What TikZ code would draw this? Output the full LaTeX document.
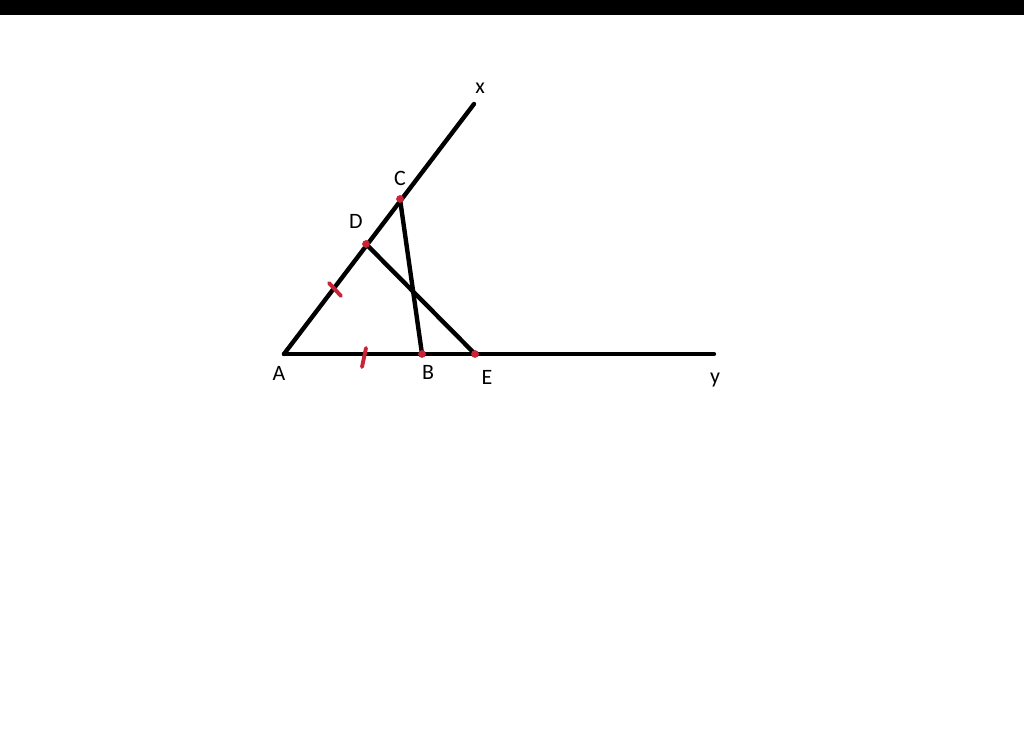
\documentclass[tikz,border=0pt]{standalone}
\usepackage{fontspec}
\setmainfont{Carlito}
\definecolor{markred}{RGB}{200,35,55}
\tikzset{
    seg/.style={line width=2.5pt, line cap=round},
    eqmark/.style={markred, line width=2.2pt, line cap=round},
    dotmark/.style={circle, fill=markred, inner sep=0pt, minimum size=4.4pt},
    lbl/.style={font=\fontsize{12.5}{14}\selectfont, inner sep=0pt}
}

\begin{document}
\begin{tikzpicture}[x=0.02cm, y=-0.02cm]
    \useasboundingbox (0,0) rectangle (1024,732);
    \fill   (0,0) rectangle (1024,15);
    % points
    \coordinate (A) at (284,354);
    \coordinate (B) at (422,354);
    \coordinate (E) at (475,354);
    \coordinate (y) at (714,354);
    \coordinate (D) at (366,244);
    \coordinate (C) at (400,199);
    \coordinate (x) at (474,104);
    % rays and segments
    \draw   [seg] (A) -- (x);
    \draw   [seg] (A) -- (y);
    \draw   [seg] (C) -- (B);
    \draw   [seg] (D) -- (E);
    % equal marks
    \draw   [eqmark] (329,283) -- (341,296);
    \draw   [eqmark] (366,348) -- (362,367);
    \node   [dotmark] at (C) {};
    \node   [dotmark] at (D) {};
    \node   [dotmark] at (B) {};
    \node   [dotmark] at (E) {};
    % labels
    \node   [lbl] (lA) at (279,373) {A};
    \node   [lbl] (lB) at (428,372) {B};
    \node   [lbl] (lE) at (487,377) {E};
    \node   [lbl] (lC) at (400,178) {C};
    \node   [lbl] (lD) at (356,221) {D};
    \node   [lbl] (lx) at (480,88) {x};
    \node   [lbl] (ly) at (715,380) {y};
\end{tikzpicture}
\end{document}
